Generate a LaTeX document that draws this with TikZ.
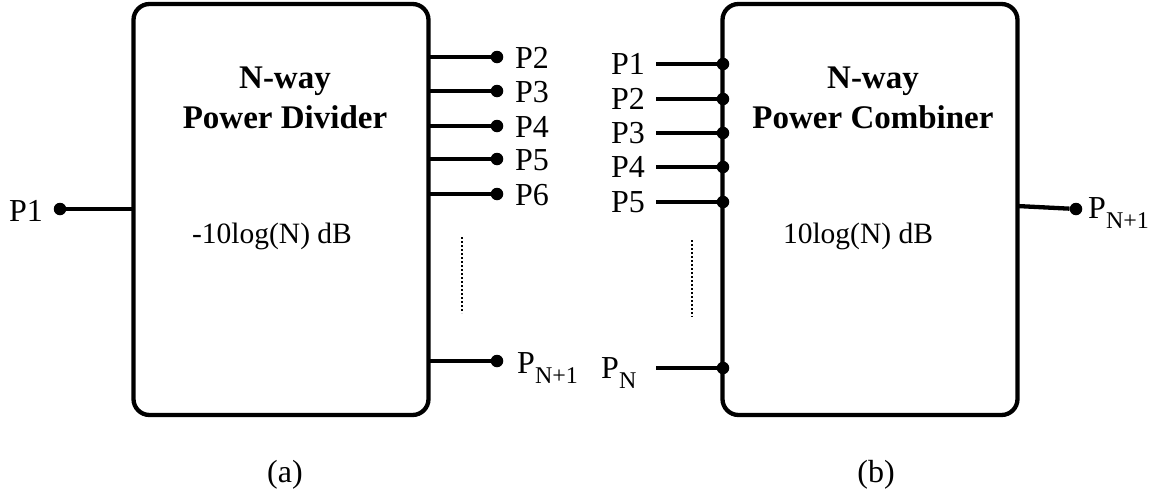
\documentclass[tikz,border=0pt]{standalone}
\usepackage{fontspec}
\setmainfont{Liberation Serif}
\begin{document}
\begin{tikzpicture}[x=1pt,y=-1pt,
  box/.style={draw,line width=4.3pt,rounded corners=16pt,minimum width=295pt,minimum height=411pt,inner sep=0pt},
  wire/.style={line width=4.3pt},
  port/.style={circle,fill,inner sep=0pt,minimum size=12.5pt},
  lbl/.style={inner sep=0pt,font=\fontsize{32}{36}\selectfont},
  ttl/.style={inner sep=0pt,font=\fontsize{33}{38}\selectfont\bfseries},
  gain/.style={inner sep=0pt,font=\fontsize{29.5}{34}\selectfont},
  dots/.style={line width=2.8pt,dash pattern=on 2pt off 2pt}]
\useasboundingbox (0,0) rectangle (1157,490);
\newcommand{\sbs}[1]{\raisebox{-10pt}{\fontsize{24}{28}\selectfont #1}}
% left box
\node[box] (A) at (281,209.5) {};
\node[ttl,anchor=base] (At1) at (285,88) {N-way};
\node[ttl,anchor=base] (At2) at (285,128) {Power Divider};
\node[gain,anchor=base] (Ag) at (272,243) {-10log(N) dB};
% input P1
\node[port] (a1) at (60,209) {};
\coordinate (ae1) at (133,209);
\draw[wire] (ae1) -- (a1);
\node[lbl,anchor=base east] (la1) at (43,221) {P1};
% outputs
\foreach \n/\y/\t in {2/57/P2,3/91/P3,4/126/P4,5/159/P5,6/194/P6}{
  \coordinate (ae\n) at (428.5,\y);
  \node[port] (a\n) at (497,\y) {};
  \draw[wire] (ae\n) -- (a\n);
  \node[lbl,anchor=base west] (la\n) at (515,\y+11) {\t};
}
\coordinate (aeN) at (428.5,361);
\node[port] (aN) at (497,361) {};
\draw[wire] (aeN) -- (aN);
\node[lbl,anchor=base west] (laN) at (517,373) {P\sbs{N+1}};
\coordinate (ad1) at (462,237);
\coordinate (ad2) at (462,313);
\draw[dots] (ad1) -- (ad2);
% right box
\node[box] (B) at (870,209.5) {};
\node[ttl,anchor=base] (Bt1) at (873,88) {N-way};
\node[ttl,anchor=base] (Bt2) at (873,128) {Power Combiner};
\node[gain,anchor=base] (Bg) at (858,243) {10log(N) dB};
\foreach \n/\y/\t in {1/64/P1,2/99/P2,3/133/P3,4/167/P4,5/202/P5}{
  \coordinate (bs\n) at (656,\y);
  \node[port] (b\n) at (723,\y) {};
  \draw[wire] (bs\n) -- (b\n);
  \node[lbl,anchor=base east] (lb\n) at (645,\y+10) {\t};
}
\coordinate (bsN) at (656,368);
\node[port] (bN) at (723,368) {};
\draw[wire] (bsN) -- (bN);
\node[lbl,anchor=base west] (lbN) at (601,378) {P\sbs{N}};
\coordinate (bd1) at (692,240);
\coordinate (bd2) at (692,317);
\draw[dots] (bd1) -- (bd2);
% output
\coordinate (beo) at (1017,206);
\node[port] (bo) at (1076,209) {};
\draw[wire] (beo) -- (bo);
\node[lbl,anchor=base west] (lbo) at (1088,218) {P\sbs{N+1}};
% captions
\node[lbl,anchor=base] (capa) at (285,482) {(a)};
\node[lbl,anchor=base] (capb) at (876,482) {(b)};
\end{tikzpicture}
\end{document}
